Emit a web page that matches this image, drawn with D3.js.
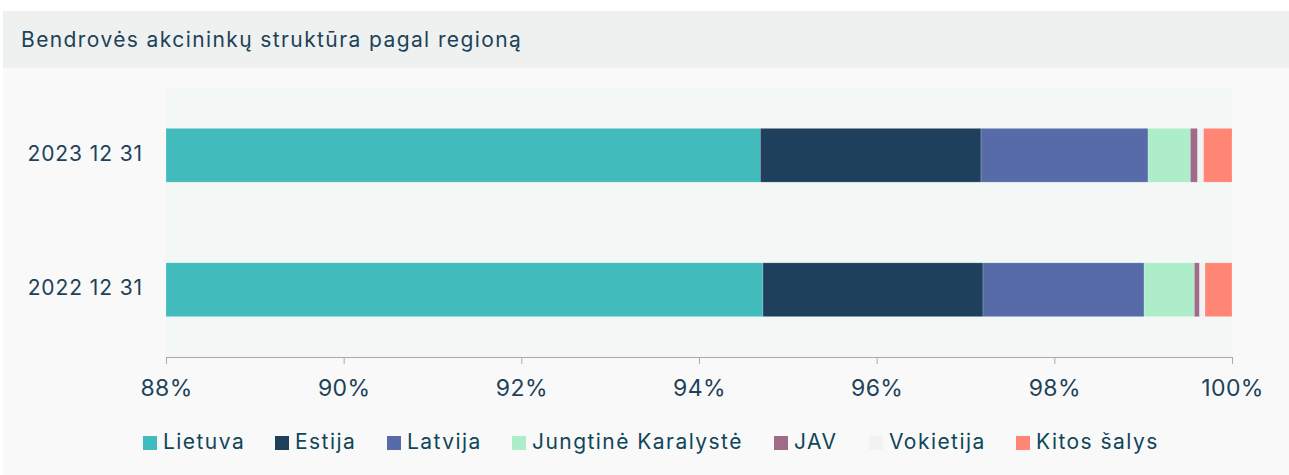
<!DOCTYPE html>
<html>
<head>
<meta charset="utf-8">
<script src="https://cdn.jsdelivr.net/npm/d3@7"></script>
<style>
  body { margin: 0; background: #fff; }
  svg { display: block; font-family: Inter, "Open Sans", sans-serif; }
</style>
</head>
<body>
<svg id="chart" width="1289" height="475"></svg>
<script>
// data (shares in %)
var dates = ["2023 12 31", "2022 12 31"];
var regions = ["Lietuva", "Estija", "Latvija", "Jungtinė Karalystė", "JAV", "Vokietija", "Kitos šalys"];
var colors = ["#41bbbc", "#1f405c", "#566ba8", "#aeedc9", "#a06b88", "#f2f2f2", "#ff8575"];
var share2023 = [94.69, 2.485, 1.88, 0.476, 0.083, 0.066, 0.32];
var share2022 = [94.72, 2.477, 1.813, 0.566, 0.06, 0.06, 0.304];
var ticks = [88, 90, 92, 94, 96, 98, 100];

var rows = [share2023, share2022].map(function(s, i) {
  var r = { date: dates[i] };
  regions.forEach(function(k, j) { r[k] = s[j]; });
  return r;
});

var svg = d3.select("#chart");
var W = 1289, H = 475;
var textCol = "#1d4259";

// backgrounds
svg.append("rect").attr("x", 3).attr("y", 11).attr("width", W - 3).attr("height", H - 11).attr("fill", "#f9f9f9");
svg.append("rect").attr("x", 3).attr("y", 11).attr("width", W - 3).attr("height", 57).attr("fill", "#eff1f0");
svg.append("text").attr("x", 21).attr("y", 41).attr("dominant-baseline", "middle")
  .style("font-size", "21px").style("letter-spacing", "1.4px").attr("fill", textCol)
  .text("Bendrovės akcininkų struktūra pagal regioną");

var x = d3.scaleLinear().domain([88, 100]).range([166, 1232]).clamp(true);
var y = d3.scaleBand().domain(dates).range([88, 357]).paddingInner(0.6).paddingOuter(0.3);

// plot area
svg.append("rect").attr("x", x(88)).attr("y", 88).attr("width", x(100) - x(88)).attr("height", 269)
  .attr("fill", "#f3f7f6");

var series = d3.stack().keys(regions)(rows);

svg.append("g").selectAll("g").data(series).join("g")
  .attr("fill", function(d, i) { return colors[i]; })
  .selectAll("rect").data(function(d) { return d; }).join("rect")
  .attr("x", function(d) { return x(d[0]); })
  .attr("y", function(d) { return y(d.data.date); })
  .attr("width", function(d) { return x(d[1]) - x(d[0]); })
  .attr("height", y.bandwidth())
  .attr("stroke", "rgba(255,255,255,0.35)")
  .attr("stroke-width", 0.6);

// x axis
var xAxis = svg.append("g").attr("transform", "translate(0,357)")
  .call(d3.axisBottom(x).tickValues(ticks).tickSize(7).tickPadding(16)
    .tickFormat(function(d) { return d + "%"; }));
xAxis.select(".domain").attr("stroke", "#aaa");
xAxis.selectAll(".tick line").attr("stroke", "#aaa");
xAxis.selectAll("text").attr("fill", textCol).style("font-size", "23px")
  .style("font-family", "Inter, sans-serif").style("letter-spacing", "0.4px");

// category labels
svg.append("g").selectAll("text").data(dates).join("text")
  .attr("x", 143).attr("y", function(d) { return y(d) + y.bandwidth() / 2; })
  .attr("text-anchor", "end").attr("dominant-baseline", "middle")
  .style("font-size", "21px").style("letter-spacing", "0.9px").attr("fill", textCol)
  .text(function(d) { return d; });

// legend
var legendX = [143, 275, 387, 512, 774, 869, 1016];
var lg = svg.append("g").selectAll("g").data(regions).join("g")
  .attr("transform", function(d, i) { return "translate(" + legendX[i] + ",436)"; });
lg.append("rect").attr("width", 14).attr("height", 14).attr("fill", function(d, i) { return colors[i]; });
lg.append("text").attr("x", 20).attr("y", 7.5).attr("dominant-baseline", "middle")
  .style("font-size", "21px").style("letter-spacing", "1.45px").attr("fill", "#0f4658")
  .text(function(d) { return d; });
</script>
</body>
</html>
